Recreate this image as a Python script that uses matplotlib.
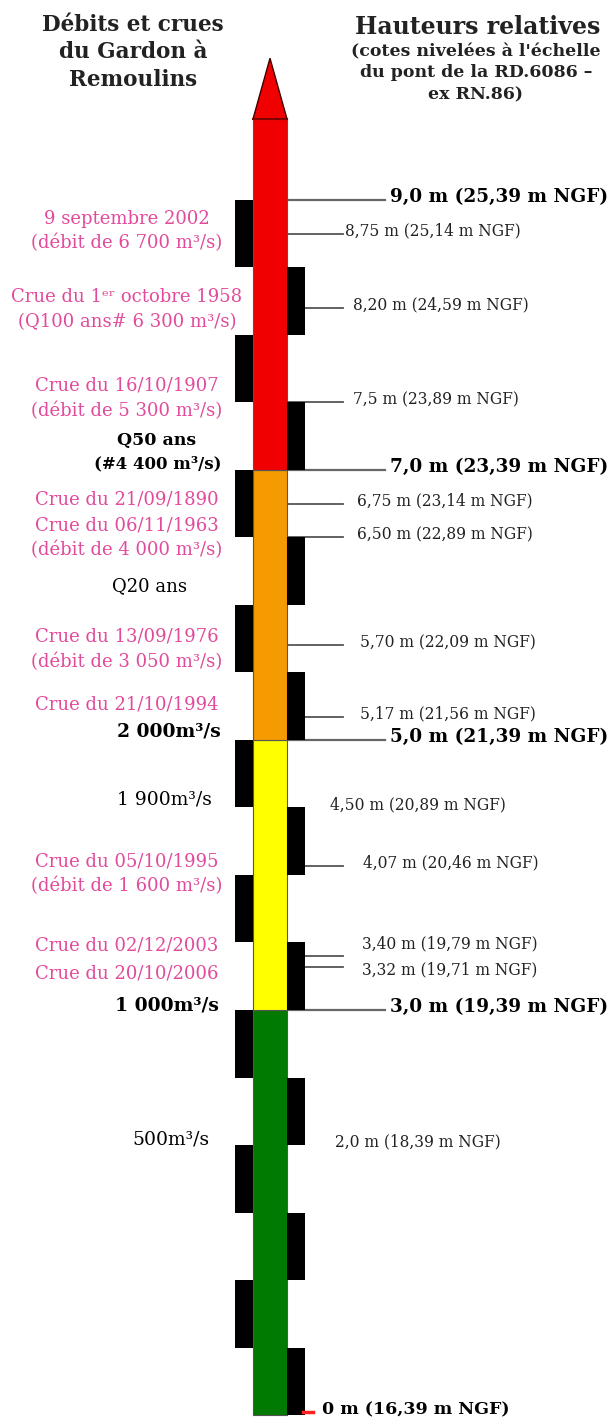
import matplotlib
matplotlib.use("Agg")
import matplotlib.pyplot as plt
from matplotlib.patches import Polygon

plt.rcParams['font.family'] = ['DejaVu Serif']

# ---- data -------------------------------------------------------------
NGF_ZERO = 16.39                      # altitude of the gauge zero (m NGF)

zone_bounds = [0.0, 3.0, 5.0, 7.0, 9.6]
zone_colors = ['#007a00', '#ffff00', '#f59a00', '#f00000']
arrow_tip = 10.05

major_levels = [9.0, 7.0, 5.0, 3.0]
major_decimals = [1, 1, 1, 1]

minor_levels = [8.75, 8.20, 7.5, 6.75, 6.50, 5.70, 5.17, 4.50, 4.07, 3.40, 3.32, 2.0]
minor_decimals = [2, 2, 1, 2, 2, 2, 2, 2, 2, 2, 2, 1]
minor_has_line = [True, True, True, True, True, True, True, False, True, True, True, False]
minor_text_x = [345, 353, 353, 357, 357, 360, 360, 330, 363, 362, 362, 335]
# vertical nudge (m) of a label away from its line, for closely spaced levels
minor_text_dy = [0, 0, 0, 0, 0, 0, 0, 0, 0, 0.07, -0.04, 0]

# left-hand annotations: (text, pixel row)
crue_texts = [
    ("9 septembre 2002", 219), ("(débit de 6 700 m³/s)", 243),
    ("Crue du 1ᵉʳ octobre 1958", 297), ("(Q100 ans# 6 300 m³/s)", 322),
    ("Crue du 16/10/1907", 386), ("(débit de 5 300 m³/s)", 411),
    ("Crue du 21/09/1890", 500),
    ("Crue du 06/11/1963", 526), ("(débit de 4 000 m³/s)", 550),
    ("Crue du 13/09/1976", 637), ("(débit de 3 050 m³/s)", 662),
    ("Crue du 21/10/1994", 705),
    ("Crue du 05/10/1995", 862), ("(débit de 1 600 m³/s)", 886),
    ("Crue du 02/12/2003", 946),
    ("Crue du 20/10/2006", 974),
]
flow_texts = [
    ("Q50 ans", 441, 157, 'center', 'bold', 12.5),
    ("(#4 400 m³/s)", 464, 158, 'center', 'bold', 12),
    ("Q20 ans", 586, 150, 'center', 'normal', 13),
    ("2 000m³/s", 732, 221, 'right', 'bold', 13.5),
    ("1 900m³/s", 800, 212, 'right', 'normal', 13.5),
    ("1 000m³/s", 1006, 219, 'right', 'bold', 13.5),
    ("500m³/s", 1140, 210, 'right', 'normal', 13.5),
]

# ---- figure -----------------------------------------------------------
W, H = 613, 1420
PX_PER_M = 135.0
Y0 = 1415.0                            # pixel row of the 0 m mark


def row(y):
    """pixel row -> metres on the gauge"""
    return (Y0 - y) / PX_PER_M


fig = plt.figure(figsize=(W / 100, H / 100), dpi=100)
ax = fig.add_axes([0, 0, 1, 1])
ax.set_xlim(0, W)
ax.set_ylim(row(H), row(0))
ax.axis('off')

COL_X0, COL_X1 = 253, 287
BLK_W = 18
PINK = '#e24a9b'

# coloured column
for lo, hi, c in zip(zone_bounds[:-1], zone_bounds[1:], zone_colors):
    ax.bar((COL_X0 + COL_X1) / 2, hi - lo, bottom=lo, width=COL_X1 - COL_X0,
           color=c, edgecolor='#555555', linewidth=0.8, zorder=3)

# arrow head
ax.add_patch(Polygon([[COL_X0, zone_bounds[-1]], [COL_X1, zone_bounds[-1]],
                      [(COL_X0 + COL_X1) / 2, arrow_tip]],
                     closed=True, facecolor=zone_colors[-1],
                     edgecolor='#400000', linewidth=1.0, zorder=4))
ax.plot([COL_X0, COL_X1], [zone_bounds[-1]] * 2, color='#800000', lw=1.5, zorder=5)

# alternating half-metre black blocks
n_blocks = int(major_levels[0] / 0.5)
for i in range(n_blocks):
    lo = i * 0.5
    if i % 2 == 0:
        x = COL_X1 + BLK_W / 2
    else:
        x = COL_X0 - BLK_W / 2
    ax.bar(x, 0.5, bottom=lo, width=BLK_W, color='black', linewidth=0, zorder=4)

# major levels
for h, d in zip(major_levels, major_decimals):
    ax.plot([COL_X1, 385], [h, h], color='#666666', lw=1.6, zorder=2)
    lab = f"{h:.{d}f} m ({h + NGF_ZERO:.2f} m NGF)".replace('.', ',')
    ax.text(390, h + 0.02, lab, ha='left', va='center', fontsize=13.3,
            fontweight='bold', color='black')

# zero mark
ax.plot([303, 313], [0.02, 0.02], color='#ff2020', lw=2.5, zorder=5)
ax.text(322, 0.04, f"0 m ({NGF_ZERO:.2f} m NGF)".replace('.', ','),
        ha='left', va='center', fontsize=12.5, fontweight='bold', color='black')

# minor levels
for h, d, has_line, tx, dy in zip(minor_levels, minor_decimals, minor_has_line,
                                  minor_text_x, minor_text_dy):
    if has_line:
        ax.plot([COL_X1, 343], [h, h], color='#555555', lw=1.3, zorder=2)
    lab = f"{h:.{d}f} m ({h + NGF_ZERO:.2f} m NGF)".replace('.', ',')
    ax.text(tx, h + 0.02 + dy, lab, ha='left', va='center', fontsize=11.2,
            color='#222222')

# flood annotations
for txt, y in crue_texts:
    ax.text(127, row(y), txt, ha='center', va='center', fontsize=13,
            color=PINK)

for txt, y, x, ha, w, fs in flow_texts:
    ax.text(x, row(y), txt, ha=ha, va='center', fontsize=fs,
            fontweight=w, color='black')

# headings
for txt, y in [("Débits et crues", 25), ("du Gardon à", 52), ("Remoulins", 80)]:
    ax.text(133, row(y), txt, ha='center', va='center', fontsize=15.5,
            fontweight='bold', color='#222222')
ax.text(478, row(27), "Hauteurs relatives", ha='center', va='center',
        fontsize=17, fontweight='bold', color='#222222')
for txt, y in [("(cotes nivelées à l'échelle", 52),
               ("du pont de la RD.6086 –", 73),
               ("ex RN.86)", 95)]:
    ax.text(476, row(y), txt, ha='center', va='center', fontsize=12.5,
            fontweight='bold', color='#222222')

fig.savefig('out.png', dpi=100)
